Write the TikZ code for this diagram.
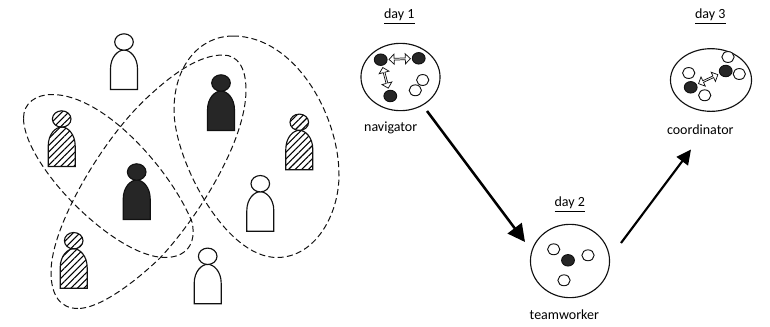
\documentclass[tikz,border=0pt]{standalone}
\usepackage{fontspec}
\setmainfont{Carlito}
\usetikzlibrary{arrows.meta, shapes.geometric, shapes.arrows, patterns.meta}
\definecolor{persondark}{HTML}{262626}
\definecolor{linegray}{HTML}{111111}
\tikzset{
  everyoutline/.style={draw=linegray, line width=0.85pt},
  plainfill/.style={everyoutline, fill=white},
  darkfill/.style={everyoutline, fill=persondark},
  hatchfill/.style={everyoutline, pattern={Lines[angle=45, distance=3.5pt, line width=0.8pt]}, pattern color=black},
  groupline/.style={draw=linegray, line width=0.75pt, dash pattern=on 4.5pt off 2.5pt},
  daycircle/.style={draw=linegray, ellipse, line width=0.85pt, inner sep=0pt},
  blackdot/.style={draw=linegray, fill=persondark, ellipse, line width=0.7pt, inner sep=0pt, minimum width=9.6pt, minimum height=8.6pt},
  whitedot/.style={draw=linegray, fill=white, ellipse, line width=0.7pt, inner sep=0pt, minimum width=9.2pt, minimum height=8.2pt},
  linkarrow/.style={draw=linegray, fill=white, double arrow, sloped, line width=0.55pt, inner sep=0pt, minimum width=7.6pt, minimum height=16pt, double arrow head extend=1.3pt},
  dayarrow/.style={draw=black, line width=1.9pt, -{Triangle[length=13pt, width=13pt]}},
  thinarrow/.style={draw=black, line width=1.6pt, -{Triangle[length=11pt, width=10.5pt]}},
  daylabel/.style={font=\fontsize{10.5}{10.5}\selectfont, text=black},
}
\begin{document}
\begin{tikzpicture}[x=0.75pt, y=-0.75pt]
  \useasboundingbox (0,0) rectangle (770,326);

  % Group outlines on the left
  \draw[groupline] (23.5,118) .. controls (23.5,103) and (36,94.5) .. (52,94.5) .. controls (105,94.5) and (172,172) .. (192,222) .. controls (197,245) and (185,257.5) .. (165,257.5) .. controls (115,257.5) and (23.5,165) .. (23.5,118) -- cycle;
  \draw[groupline] (78,308.5) .. controls (60,308.5) and (51,295) .. (51,272) .. controls (51,225) and (105,135) .. (150,95) .. controls (175,72) and (200,55) .. (223,55) .. controls (238,55) and (246,68) .. (246,90) .. controls (246,140) and (200,215) .. (160,258) .. controls (135,282) and (100,308.5) .. (78,308.5) -- cycle;
  \draw[groupline] (233,36) .. controls (200,36) and (174,65) .. (174,110) .. controls (174,160) and (225,257.5) .. (277,257.5) .. controls (315,257.5) and (339,215) .. (339,175) .. controls (339,115) and (295,36) .. (233,36) -- cycle;

  % People: head centre and fill
  \foreach \x/\y/\sty in {124/42/plainfill, 61.7/119/hatchfill, 221/83/darkfill, 299.3/122.3/hatchfill, 136.7/172/darkfill, 260.3/183.7/plainfill, 73.7/240.7/hatchfill, 207.7/256.3/plainfill} {
    \draw[\sty] (\x-13.5,\y+47.5) -- (\x-13.5,\y+27) .. controls (\x-13.5,\y+15) and (\x-6,\y+8) .. (\x,\y+8) .. controls (\x+6,\y+8) and (\x+13.5,\y+15) .. (\x+13.5,\y+27) -- (\x+13.5,\y+47.5) -- cycle;
    \draw[\sty] (\x,\y) ellipse [x radius=9.3, y radius=8.2];
  }

  % Day 1
  \node[daycircle, minimum width=59.3pt, minimum height=50.5pt] (navcircle) at (400.5,77) {};
  \node[daylabel] (dayone) at (399.3,16.5) {\underline{day 1}};
  \node[daylabel] (navlabel) at (390.7,128) {navigator};
  \node[blackdot] (navdota) at (380.7,59.7) {};
  \node[blackdot] (navdotb) at (418.7,58.3) {};
  \node[blackdot] (navdotc) at (390.3,96) {};
  \node[whitedot] (navdotd) at (422.7,80) {};
  \node[whitedot] (navdote) at (415.3,90.3) {};
  \path (navdota) -- node[linkarrow] {} (navdotb);
  \path (navdota) -- node[linkarrow] {} (navdotc);

  % Day 2
  \node[daycircle, minimum width=59.3pt, minimum height=55pt] (teamcircle) at (570,261) {};
  \node[daylabel] (daytwo) at (569.7,204.5) {\underline{day 2}};
  \node[daylabel] (teamlabel) at (564.3,315) {teamworker};
  \node[blackdot] (teamdota) at (568,260.3) {};
  \node[whitedot] (teamdotb) at (553.7,249.3) {};
  \node[whitedot] (teamdotc) at (588,255.3) {};
  \node[whitedot] (teamdotd) at (564,280.3) {};

  % Day 3
  \node[daycircle, minimum width=60.8pt, minimum height=47pt] (coordcircle) at (711,80) {};
  \node[daylabel] (daythree) at (710.3,16.5) {\underline{day 3}};
  \node[daylabel] (coordlabel) at (700.3,130) {coordinator};
  \node[blackdot] (coorddota) at (690.7,87.3) {};
  \node[blackdot] (coorddotb) at (725.7,71) {};
  \node[whitedot] (coorddotc) at (728,57) {};
  \node[whitedot] (coorddotd) at (739.3,74) {};
  \node[whitedot] (coorddote) at (688.7,73) {};
  \node[whitedot] (coorddotf) at (704.7,95.3) {};
  \path (coorddota) -- node[linkarrow] {} (coorddotb);

  % Arrows between the days
  \coordinate (navout) at (427,111);
  \coordinate (teamin) at (525,242);
  \coordinate (teamout) at (621,243);
  \coordinate (coordin) at (691,149.5);
  \draw[dayarrow] (navout) -- (teamin);
  \draw[thinarrow] (teamout) -- (coordin);
\end{tikzpicture}
\end{document}
